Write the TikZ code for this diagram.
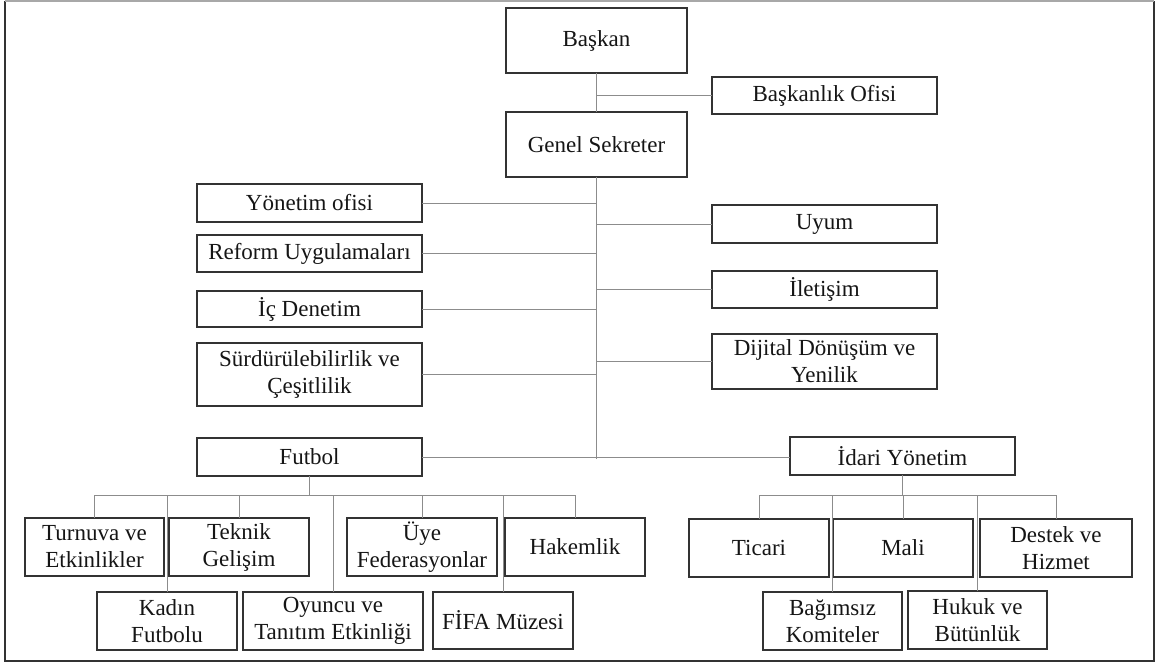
\documentclass[tikz,border=0pt]{standalone}
\usepackage{fontspec}
\setmainfont{Liberation Serif}
\definecolor{boxline}{HTML}{333333}
\definecolor{linkline}{HTML}{8C8C8C}
\definecolor{framegray}{HTML}{A8A8A8}
\definecolor{txt}{HTML}{151515}
\tikzset{
  box/.style={draw=boxline, line width=1.3pt, inner sep=0pt, outer sep=0pt,
    align=center, text=txt, font=\fontsize{23}{27}\selectfont},
  link/.style={draw=linkline, line width=1pt},
}
% \orgbox{name}{left}{top}{right}{bottom}{text}
\newcommand{\orgbox}[6]{%
  \node[box, minimum width={#4-#2}, minimum height={#5-#3}] (#1)
    at ({(#2+#4)/2},{(#3+#5)/2}) {#6};}
\begin{document}
\begin{tikzpicture}[x=1pt, y=-1pt]
\useasboundingbox (0,0) rectangle (1157,666);
% outer frame
\draw[boxline, line width=1.3pt] (5,1) -- (5,661) -- (1154,661) -- (1154,1);
\draw[framegray, line width=1.3pt] (5,1) -- (1154,1);

% top management
\orgbox{baskan}{506}{8}{687}{73}{Başkan}
\orgbox{bofis}{712}{77}{937}{114}{Başkanlık Ofisi}
\orgbox{genel}{506}{112}{687}{177}{Genel Sekreter}

% units left of the spine
\orgbox{yonetim}{197}{184}{422}{222}{Yönetim ofisi}
\orgbox{reform}{197}{235}{422}{272}{Reform Uygulamaları}
\orgbox{icden}{197}{291}{422}{327}{İç Denetim}
\orgbox{surdur}{197}{343}{422}{406}{Sürdürülebilirlik ve\\Çeşitlilik}
\orgbox{futbol}{197}{438}{422}{476}{Futbol}

% units right of the spine
\orgbox{uyum}{712}{205}{937}{243}{Uyum}
\orgbox{iletisim}{712}{271}{937}{308}{İletişim}
\orgbox{dijital}{712}{334}{937}{389}{Dijital Dönüşüm ve\\Yenilik}
\orgbox{idari}{790}{437}{1015}{475}{İdari Yönetim}

% football divisions
\orgbox{turnuva}{25}{518}{164}{576}{Turnuva ve\\Etkinlikler}
\orgbox{teknik}{169}{518}{309}{576}{Teknik\\Gelişim}
\orgbox{uye}{347}{518}{497}{576}{Üye\\Federasyonlar}
\orgbox{hakem}{505}{518}{645}{576}{Hakemlik}
\orgbox{kadin}{97}{592}{237}{650}{Kadın\\Futbolu}
\orgbox{oyuncu}{243}{592}{423}{650}{Oyuncu ve\\Tanıtım Etkinliği}
\orgbox{fifa}{433}{592}{573}{649}{FİFA Müzesi}

% administration divisions
\orgbox{ticari}{689}{519}{829}{577}{Ticari}
\orgbox{mali}{833}{519}{973}{577}{Mali}
\orgbox{destek}{980}{519}{1132}{577}{Destek ve\\Hizmet}
\orgbox{bagimsiz}{763}{592}{902}{650}{Bağımsız\\Komiteler}
\orgbox{hukuk}{908}{591}{1047}{649}{Hukuk ve\\Bütünlük}

% connectors: president and general secretary
\draw[link] (baskan.south) -- (genel.north);
\draw[link] (bofis.west) -- (bofis.west -| baskan.south);
\coordinate (spineend) at (0,459);
\draw[link] (genel.south) -- (genel.south |- spineend);
\foreach \n in {yonetim,reform,icden,surdur}
  \draw[link] (\n.east) -- (\n.east -| genel.south);
\foreach \n in {uyum,iletisim,dijital}
  \draw[link] (\n.west) -- (\n.west -| genel.south);
\draw[link] (futbol.east) -- (futbol.east -| idari.west);

% connectors: football tree
\coordinate (fbus) at (0,495);
\draw[link] (futbol.south) -- (futbol.south |- fbus);
\draw[link] (turnuva.north) |- (hakem.north |- fbus) -- (hakem.north);
\foreach \n in {teknik,uye}
  \draw[link] (\n.north) -- (\n.north |- fbus);
\foreach \n in {kadin,oyuncu,fifa}
  \draw[link] (\n.north) -- (\n.north |- fbus);

% connectors: administration tree
\coordinate (ibus) at (0,495);
\draw[link] (idari.south) -- (idari.south |- ibus);
\draw[link] (ticari.north) |- (destek.north |- ibus) -- (destek.north);
\draw[link] (mali.north) -- (mali.north |- ibus);
\foreach \n in {bagimsiz,hukuk}
  \draw[link] (\n.north) -- (\n.north |- ibus);
\end{tikzpicture}
\end{document}
